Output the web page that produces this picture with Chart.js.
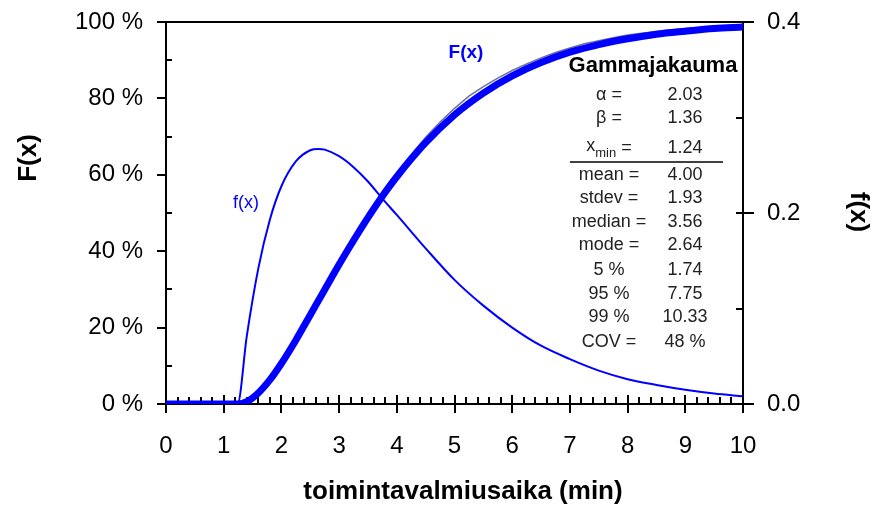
<!DOCTYPE html>
<html>
<head>
<meta charset="utf-8">
<script src="https://cdn.jsdelivr.net/npm/chart.js@4/dist/chart.umd.min.js"></script>
<style>body{margin:0;background:#fff}</style>
</head>
<body>
<canvas id="myChart" width="874" height="506"></canvas>
<script>
// fitted gamma curves
const xs     = [0, 1.24, 1.4, 1.6, 1.8, 2.0, 2.25, 2.5, 2.64, 2.75, 3.0, 3.25, 3.5, 3.75, 4.0, 4.5, 5.0, 5.5, 6.0, 6.5, 7.0, 7.5, 8.0, 8.5, 9.0, 9.5, 10];
const cdfFit = [0, 0, 0.6, 2.9, 6.3, 10.6, 16.7, 23.3, 27.0, 29.9, 36.5, 42.8, 48.8, 54.4, 59.5, 68.4, 75.7, 81.4, 85.9, 89.4, 92.1, 94.1, 95.6, 96.8, 97.6, 98.3, 98.7];
const pdfFit = [0, 0, 0.071, 0.142, 0.193, 0.228, 0.254, 0.2657, 0.2671, 0.2664, 0.2595, 0.248, 0.233, 0.215, 0.198, 0.163, 0.130, 0.103, 0.080, 0.061, 0.047, 0.035, 0.026, 0.020, 0.015, 0.011, 0.008];

// empirical distribution (grey line)
const empX = [1.25, 1.5, 2.0, 2.5, 3.0, 3.5, 3.75, 4.0, 4.25, 4.5, 4.75, 5.0, 5.25, 5.5, 5.75, 6.0, 6.25, 6.5, 6.75, 7.0, 7.25, 7.5, 7.75, 8.0, 8.5, 9.0, 9.5, 10];
const empY = [0, 1.8, 10.6, 23.4, 36.6, 49.0, 55.6, 60.6, 65.3, 69.8, 73.8, 77.4, 80.6, 83.1, 85.3, 87.3, 89.0, 90.6, 92.0, 93.2, 94.3, 95.1, 95.9, 96.6, 97.5, 98.3, 98.8, 99.3];

const statTitle = 'Gammajakauma';
const statNames  = ['α =', 'β =', 'x_min =', 'mean =', 'stdev =', 'median =', 'mode =', '5 %', '95 %', '99 %', 'COV ='];
const statValues = ['2.03', '1.36', '1.24', '4.00', '1.93', '3.56', '2.64', '1.74', '7.75', '10.33', '48 %'];
const statRowY   = [95, 118, 148, 175, 198, 222, 245, 270, 294, 317, 342];

const FONT = '"Liberation Sans", Arial, sans-serif';

const pts = (xa, ya) => xa.map((x, i) => ({ x: x, y: ya[i] }));

const frame = {
  id: 'frame',
  beforeDatasetsDraw(chart) {
    const { ctx, chartArea: a, scales } = chart;
    ctx.save();
    ctx.strokeStyle = '#000';
    ctx.lineWidth = 2;
    ctx.strokeRect(a.left, a.top, a.right - a.left, a.bottom - a.top);
    ctx.beginPath();
    // x ticks
    for (let i = 0; i <= 50; i++) {
      const px = Math.round(scales.x.getPixelForValue(i / 5));
      if (i % 5 === 0) { ctx.moveTo(px, a.bottom - 9); ctx.lineTo(px, a.bottom + 9); }
      else { ctx.moveTo(px, a.bottom - 7); ctx.lineTo(px, a.bottom); }
    }
    // left ticks
    for (let i = 0; i <= 10; i++) {
      const py = Math.round(scales.y.getPixelForValue(i * 10));
      if (i % 2 === 0) { ctx.moveTo(a.left - 9, py); ctx.lineTo(a.left, py); }
      else { ctx.moveTo(a.left, py); ctx.lineTo(a.left + 6, py); }
    }
    // right ticks
    for (let i = 0; i <= 4; i++) {
      const py = Math.round(scales.y2.getPixelForValue(i / 10));
      if (i % 2 === 0) { ctx.moveTo(a.right - 7, py); ctx.lineTo(a.right + 11, py); }
      else { ctx.moveTo(a.right - 7, py); ctx.lineTo(a.right, py); }
    }
    ctx.stroke();
    ctx.restore();
  },
  afterDraw(chart) {
    const ctx = chart.ctx;
    ctx.save();
    ctx.textBaseline = 'middle';
    ctx.textAlign = 'center';

    // axis titles
    ctx.fillStyle = '#000';
    ctx.font = 'bold 26px ' + FONT;
    ctx.fillText('toimintavalmiusaika (min)', 463, 492);
    ctx.save();
    ctx.translate(29, 158);
    ctx.rotate(-Math.PI / 2);
    ctx.fillText('F(x)', 0, 0);
    ctx.restore();
    ctx.save();
    ctx.translate(858, 212);
    ctx.rotate(Math.PI / 2);
    ctx.fillText('f(x)', 0, 0);
    ctx.restore();

    // curve labels
    ctx.fillStyle = '#0000ff';
    ctx.font = 'bold 19px ' + FONT;
    ctx.fillText('F(x)', 466, 53);
    ctx.font = '18px ' + FONT;
    ctx.fillText('f(x)', 246, 203);

    // stats box
    ctx.fillStyle = '#000';
    ctx.font = 'bold 22px ' + FONT;
    ctx.fillText(statTitle, 653, 66);
    ctx.fillStyle = '#222';
    statNames.forEach((name, i) => {
      const y = statRowY[i];
      ctx.font = '18px ' + FONT;
      if (name === 'x_min =') {
        ctx.textAlign = 'left';
        const w1 = ctx.measureText('x').width;
        ctx.font = '13px ' + FONT;
        const w2 = ctx.measureText('min').width;
        ctx.font = '18px ' + FONT;
        const w3 = ctx.measureText(' =').width;
        let x0 = 609 - (w1 + w2 + w3) / 2;
        ctx.fillText('x', x0, y - 2);
        ctx.font = '13px ' + FONT;
        ctx.fillText('min', x0 + w1, y + 5);
        ctx.font = '18px ' + FONT;
        ctx.fillText(' =', x0 + w1 + w2, y);
        ctx.textAlign = 'center';
      } else {
        ctx.fillText(name, 609, y);
      }
      ctx.fillText(statValues[i], 685, y);
    });
    ctx.strokeStyle = '#000';
    ctx.lineWidth = 1.5;
    ctx.beginPath();
    ctx.moveTo(570, 162);
    ctx.lineTo(723, 162);
    ctx.stroke();
    ctx.restore();
  }
};

const noPadV = s => { s.paddingTop = 0; s.paddingBottom = 0; };
const noPadH = s => { s.paddingLeft = 0; s.paddingRight = 0; };

const ctx = document.getElementById('myChart').getContext('2d');

new Chart(ctx, {
  type: 'line',
  data: {
    datasets: [
      {
        label: 'f(x)',
        data: pts(xs, pdfFit),
        yAxisID: 'y2',
        borderColor: '#0000ff',
        borderWidth: 2,
        pointRadius: 0,
        cubicInterpolationMode: 'monotone',
        order: 0
      },
      {
        label: 'F(x)',
        data: pts(xs, cdfFit),
        yAxisID: 'y',
        borderColor: '#0000ff',
        borderWidth: 7,
        pointRadius: 0,
        cubicInterpolationMode: 'monotone',
        order: 1
      },
      {
        label: 'empiirinen',
        data: pts(empX, empY),
        yAxisID: 'y',
        borderColor: '#7070a0',
        borderWidth: 1.5,
        pointRadius: 0,
        tension: 0,
        order: 2
      }
    ]
  },
  options: {
    responsive: false,
    devicePixelRatio: 1,
    animation: false,
    layout: { padding: { top: 22, left: 0, right: 0, bottom: 0 } },
    plugins: { legend: { display: false }, tooltip: { enabled: false } },
    scales: {
      x: {
        type: 'linear',
        position: 'bottom',
        min: 0,
        max: 10,
        grid: { display: false, drawTicks: false },
        border: { display: false },
        ticks: { stepSize: 1, color: '#000', font: { family: FONT, size: 24 }, padding: 28, maxRotation: 0 },
        afterFit: s => { s.height = 102; noPadH(s); }
      },
      y: {
        position: 'left',
        min: 0,
        max: 100,
        grid: { display: false, drawTicks: false },
        border: { display: false },
        ticks: { stepSize: 20, color: '#000', font: { family: FONT, size: 24 }, padding: 23, callback: v => v + ' %' },
        afterFit: s => { s.width = 166; noPadV(s); }
      },
      y2: {
        position: 'right',
        min: 0,
        max: 0.4,
        grid: { display: false, drawTicks: false },
        border: { display: false },
        ticks: { stepSize: 0.2, color: '#000', font: { family: FONT, size: 24 }, padding: 24, callback: v => v.toFixed(1) },
        afterFit: s => { s.width = 131; noPadV(s); }
      }
    }
  },
  plugins: [frame]
});
</script>
</body>
</html>
